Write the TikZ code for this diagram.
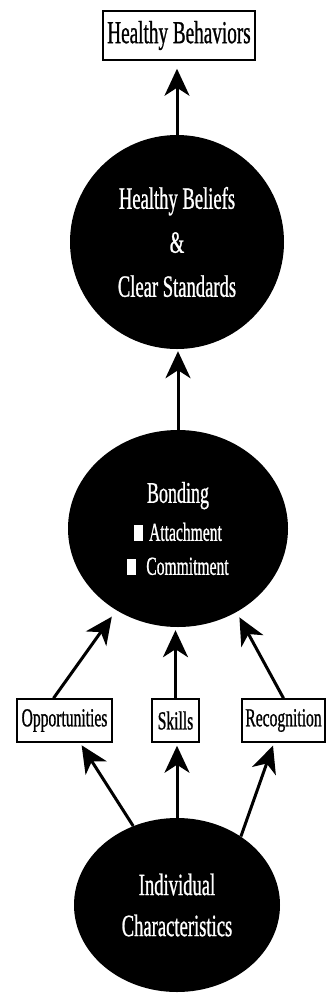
\documentclass[tikz,border=0pt]{standalone}
\usepackage{fontspec}
\setmainfont{Liberation Serif}[FakeStretch=0.6,FakeBold=0.8]
\usetikzlibrary{shapes.geometric,arrows.meta}
\begin{document}
\begin{tikzpicture}[x=1pt,y=-1pt,
  blob/.style={ellipse, fill=black, draw=none, inner sep=0pt, text=white, align=center},
  lbl/.style={draw=black, line width=1.5pt, fill=white, inner sep=0pt, minimum height=43pt, font=\fontsize{26}{28}\selectfont},
  arr/.style={line width=3pt, -{Stealth[length=27pt,width=25pt,inset=8pt]}}]
\useasboundingbox (0,0) rectangle (336,994);
\node[draw=black, line width=1.5pt, minimum width=152pt, minimum height=49pt, inner sep=0pt, font=\fontsize{32}{34}\selectfont] (hb) at (179,35.5) {Healthy Behaviors};
\node[blob, minimum width=214pt, minimum height=214pt, font=\fontsize{31}{44}\selectfont] (beliefs) at (177,242) {Healthy Beliefs\\ \&\\ Clear Standards};
\node[blob, minimum width=220pt, minimum height=197pt, font=\fontsize{26}{34}\selectfont] (bond) at (178,528.5) {{\fontsize{30}{34}\selectfont Bonding}\\[4pt] \rule{9pt}{16pt}\hspace{6pt}Attachment\\ \rule{9pt}{16pt}\hspace{10pt}Commitment};
\node[lbl, minimum width=95pt] (opp) at (64.5,720.5) {Opportunities};
\node[lbl, minimum width=47pt] (skills) at (175.5,720.5) {Skills};
\node[lbl, minimum width=83pt] (recog) at (283.5,720.5) {Recognition};
\node[blob, minimum width=206pt, minimum height=174pt, font=\fontsize{31}{41}\selectfont] (indiv) at (177,905) {Individual\\ Characteristics};
\draw[arr, shorten >=8pt] (beliefs.north) -- (beliefs.north |- hb.south);
\draw[arr, shorten >=2pt] (bond.north) -- (bond.north |- beliefs.south);
\draw[arr, shorten >=7.8pt] ([xshift=-11pt]opp.north) -- (bond.233.7);
\draw[arr, shorten >=3pt] (skills.north) -- (skills.north |- bond.south);
\draw[arr, shorten >=6pt] (recog.north) -- (bond.305);
\draw[arr, shorten >=3pt] (indiv.119.4) -- ([xshift=15.5pt]opp.south);
\draw[arr, shorten >=3pt] (indiv.north) -- (indiv.north |- skills.south);
\draw[arr, shorten >=3pt] (indiv.47) -- ([xshift=-9.5pt]recog.south);
\end{tikzpicture}
\end{document}
